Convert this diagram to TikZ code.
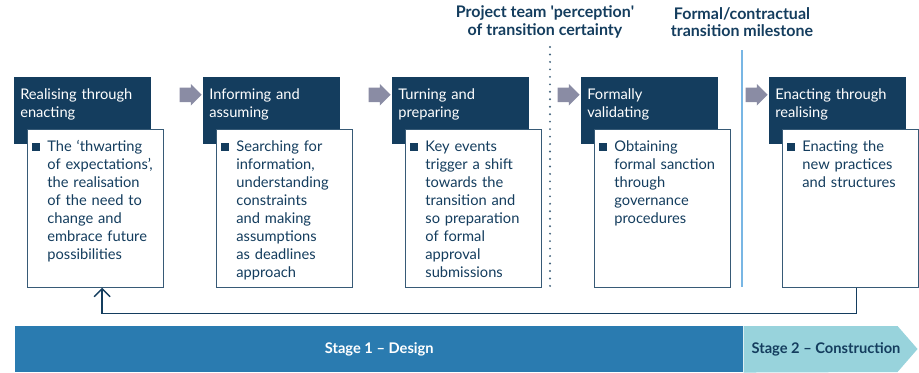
\documentclass[tikz,border=0pt]{standalone}
\usepackage{fontspec}
\setmainfont{Lato}
\usetikzlibrary{shapes.arrows, arrows.meta, positioning, calc}
\definecolor{navy}{RGB}{20,61,94}
\definecolor{stageone}{RGB}{42,123,176}
\definecolor{stagetwo}{RGB}{152,211,220}
\definecolor{milestone}{RGB}{120,182,228}
\definecolor{arrowgrey}{RGB}{138,140,164}
\newcommand{\bulletpara}[1]{\makebox[11.25pt][l]{\textcolor{navy}{\rule{6pt}{6pt}}}\hangindent=11.25pt\hangafter=1\relax #1\par}

\begin{document}
\begin{tikzpicture}[x=0.75pt, y=-0.75pt,
  headbox/.style={fill=navy, text=white, anchor=north west, text width=93.75pt, align=left, inner xsep=4.5pt, inner ysep=6pt, text height=10.5pt, text depth=27.75pt, font=\fontsize{11}{13.5}\selectfont},
  bodybox/.style={draw=navy!85, line width=0.6pt, fill=white, text=navy, text width=94.5pt, align=left, inner xsep=3.75pt, inner ysep=6pt, text height=10.5pt, text depth=96pt, font=\fontsize{11}{13.5}\selectfont},
  steparrow/.style={single arrow, fill=arrowgrey, inner xsep=0pt, inner ysep=5.25pt, minimum height=16.5pt, single arrow head extend=2.6pt},
  toptitle/.style={text=navy, align=center, font=\fontsize{12}{13}\selectfont\bfseries},
  stagebar/.style={fill=stageone, text=white, anchor=north west, minimum width=546pt, minimum height=34.5pt, inner sep=0pt, font=\fontsize{11}{12}\selectfont\bfseries}
]
  \useasboundingbox (0,0) rectangle (919,372);

  \node[toptitle] (t1) at (545,22) {Project team \textquotesingle perception\textquotesingle\\of transition certainty};
  \node[toptitle] (t2) at (742,22) {Formal/contractual\\transition milestone};
  \draw[navy!80, line width=1.6pt, line cap=round, dash pattern=on 0pt off 5.6pt] (550,47) -- (550,287);
  \draw[milestone, line width=1.6pt] (742,50) -- (742,287);

  \node[headbox] (h1) at (14,77) {Realising through\\enacting};
  \node[headbox] (h2) at (203,77) {Informing and\\assuming};
  \node[headbox] (h3) at (392,77) {Turning and\\preparing};
  \node[headbox] (h4) at (581,77) {Formally\\validating};
  \node[headbox] (h5) at (769,77) {Enacting through\\realising};

  \node[bodybox, below right=39pt and 9.75pt of h1.north west] (b1) {\bulletpara{The `thwarting\newline of expectations',\newline the realisation\newline of the need to\newline change and\newline embrace future\newline possibilities}};
  \node[bodybox, below right=39pt and 9.75pt of h2.north west] (b2) {\bulletpara{Searching for\newline information,\newline understanding\newline constraints\newline and making\newline assumptions\newline as deadlines\newline approach}};
  \node[bodybox, below right=39pt and 9.75pt of h3.north west] (b3) {\bulletpara{Key events\newline trigger a shift\newline towards the\newline transition and\newline so preparation\newline of formal\newline approval\newline submissions}};
  \node[bodybox, below right=39pt and 9.75pt of h4.north west] (b4) {\bulletpara{Obtaining\newline formal sanction\newline through\newline governance\newline procedures}};
  \node[bodybox, below right=39pt and 9.75pt of h5.north west] (b5) {\bulletpara{Enacting the\newline new practices\newline and structures}};

  \node[steparrow, left=0.75pt of h2.west, yshift=12pt] (a2) {};
  \node[steparrow, left=0.75pt of h3.west, yshift=12pt] (a3) {};
  \node[steparrow, left=0.75pt of h4.west, yshift=12pt] (a4) {};
  \node[steparrow, left=0.75pt of h5.west, yshift=12pt] (a5) {};

  \draw[navy, line width=1pt, -{Straight Barb[length=6pt, width=12pt]}] ([xshift=4.5pt]b5.south) -- ++(0,26) -| ([xshift=5pt]b1.south);

  \node[stagebar] (s1) at (15,326) {Stage 1 -- Design};
  \fill[stagetwo] (s1.north east) -- ++(154,0) -- ++(20,23) -- ++(-20,23) -- (s1.south east) -- cycle;
  \node[text=navy, font=\fontsize{11}{12}\selectfont\bfseries] (s2) at (826,349) {Stage 2 -- Construction};
\end{tikzpicture}
\end{document}
